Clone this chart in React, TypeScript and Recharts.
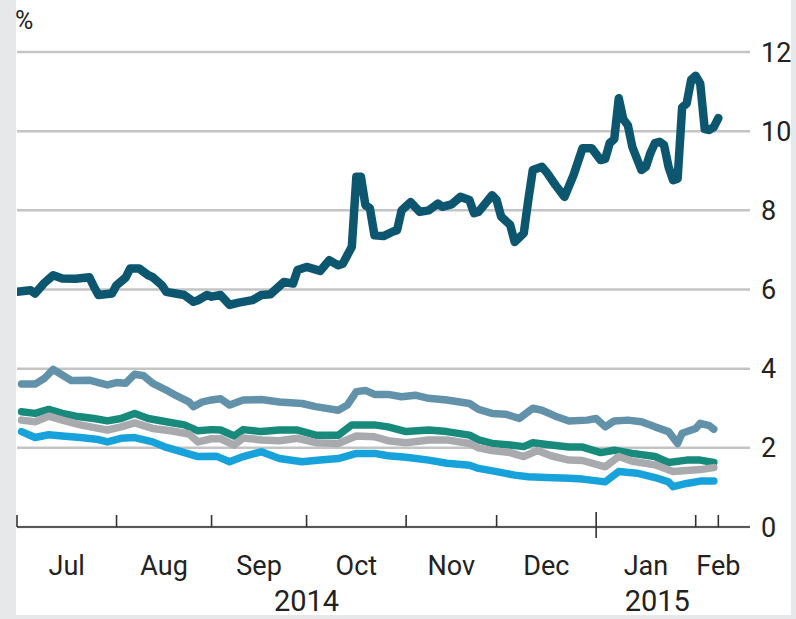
import React from 'react'
import { LineChart, Line, XAxis, YAxis, CartesianGrid } from 'recharts'

// 10-year bond yields, %, x = trading day since Jul 1st 2014
const greece: [number, number][] = [
  [0, 5.94], [3, 5.98], [4, 5.9], [6, 6.16], [8, 6.36], [10, 6.28], [13, 6.27], [16, 6.31], [17, 6.07],
  [18, 5.86], [21, 5.9], [22, 6.11], [24, 6.3], [25, 6.53], [27, 6.53], [29, 6.36], [30, 6.31], [32, 6.11],
  [33, 5.94], [35, 5.9], [37, 5.86], [39, 5.69], [40, 5.73], [42, 5.86], [43, 5.82], [45, 5.86], [47, 5.61],
  [49, 5.67], [52, 5.73], [54, 5.86], [56, 5.88], [59, 6.19], [61, 6.15], [62, 6.49], [64, 6.57], [67, 6.47],
  [69, 6.74], [71, 6.61], [72, 6.65], [74, 7.08], [75, 8.85], [76, 8.85], [77, 8.13], [78, 8.05], [79, 7.37],
  [81, 7.35], [83, 7.46], [84, 7.5], [85, 8.0], [87, 8.21], [89, 7.96], [91, 8.0], [93, 8.17], [94, 8.09],
  [96, 8.15], [98, 8.34], [100, 8.26], [101, 7.93], [102, 7.96], [105, 8.38], [106, 8.26], [107, 7.84],
  [109, 7.63], [110, 7.2], [112, 7.42], [113, 8.26], [114, 9.02], [116, 9.1], [117, 8.97], [119, 8.64],
  [121, 8.34], [123, 8.89], [125, 9.57], [127, 9.57], [129, 9.27], [130, 9.3], [131, 9.7], [132, 9.8],
  [133, 10.83], [134, 10.3], [135, 10.15], [136, 9.6], [138, 9.02], [139, 9.1], [140, 9.45], [141, 9.7],
  [142, 9.73], [143, 9.65], [144, 9.1], [145, 8.76], [146, 8.8], [147, 10.6], [148, 10.7], [149, 11.3],
  [150, 11.4], [151, 11.2], [152, 10.05], [153, 10.03], [154, 10.1], [155, 10.33],
]

const portugal: [number, number][] = [
  [1, 3.61], [4, 3.61], [6, 3.75], [8, 3.98], [10, 3.84], [12, 3.7], [16, 3.71], [18, 3.65], [20, 3.59],
  [22, 3.65], [24, 3.63], [26, 3.86], [28, 3.82], [30, 3.63], [33, 3.46], [35, 3.33], [38, 3.16], [39, 3.04],
  [41, 3.16], [43, 3.21], [45, 3.24], [47, 3.08], [50, 3.21], [54, 3.22], [58, 3.16], [63, 3.12], [66, 3.04],
  [71, 2.95], [73, 3.08], [75, 3.42], [77, 3.45], [79, 3.35], [82, 3.35], [85, 3.29], [88, 3.33], [91, 3.25],
  [95, 3.21], [100, 3.12], [102, 2.97], [105, 2.87], [108, 2.85], [111, 2.74], [114, 3.0], [116, 2.95],
  [119, 2.8], [122, 2.68], [126, 2.7], [128, 2.74], [130, 2.53], [132, 2.68], [135, 2.7], [138, 2.66],
  [141, 2.53], [144, 2.41], [146, 2.11], [147, 2.37], [150, 2.49], [151, 2.62], [153, 2.56], [154, 2.47],
]

const italy: [number, number][] = [
  [1, 2.91], [4, 2.87], [7, 2.97], [10, 2.87], [13, 2.8], [17, 2.74], [20, 2.68], [23, 2.74], [26, 2.87],
  [29, 2.74], [33, 2.66], [37, 2.58], [40, 2.43], [43, 2.46], [45, 2.45], [48, 2.3], [50, 2.46], [54, 2.41],
  [58, 2.45], [62, 2.45], [66, 2.32], [71, 2.32], [74, 2.58], [79, 2.58], [82, 2.53], [86, 2.41], [91, 2.45],
  [95, 2.41], [100, 2.32], [102, 2.2], [105, 2.11], [109, 2.07], [112, 2.03], [114, 2.13], [118, 2.07],
  [122, 2.02], [125, 2.02], [129, 1.88], [132, 1.94], [136, 1.86], [141, 1.78], [144, 1.63], [148, 1.69],
  [151, 1.69], [154, 1.63],
]

const spain: [number, number][] = [
  [1, 2.7], [4, 2.66], [7, 2.8], [10, 2.7], [14, 2.58], [18, 2.49], [20, 2.45], [23, 2.53], [26, 2.63],
  [30, 2.49], [34, 2.43], [38, 2.35], [40, 2.15], [43, 2.23], [45, 2.23], [48, 2.07], [50, 2.25], [54, 2.2],
  [58, 2.18], [62, 2.24], [66, 2.13], [71, 2.11], [75, 2.3], [79, 2.28], [82, 2.18], [86, 2.13], [91, 2.2],
  [95, 2.2], [100, 2.11], [102, 2.0], [105, 1.93], [109, 1.88], [112, 1.78], [115, 1.93], [118, 1.8],
  [122, 1.69], [125, 1.68], [130, 1.52], [133, 1.78], [136, 1.66], [141, 1.57], [145, 1.4], [148, 1.43],
  [151, 1.45], [154, 1.5],
]

const ireland: [number, number][] = [
  [1, 2.41], [4, 2.26], [7, 2.33], [10, 2.3], [14, 2.26], [18, 2.21], [20, 2.15], [23, 2.24], [26, 2.26],
  [30, 2.15], [33, 2.01], [37, 1.88], [40, 1.78], [44, 1.79], [47, 1.65], [50, 1.78], [54, 1.9], [58, 1.73],
  [63, 1.65], [67, 1.69], [71, 1.73], [75, 1.86], [79, 1.86], [82, 1.8], [86, 1.76], [91, 1.69], [95, 1.61],
  [100, 1.56], [102, 1.48], [106, 1.4], [110, 1.31], [113, 1.27], [117, 1.25], [122, 1.23], [125, 1.21],
  [130, 1.14], [133, 1.4], [137, 1.36], [141, 1.25], [144, 1.14], [145, 1.02], [148, 1.1], [151, 1.16],
  [154, 1.16],
]

const monthStarts = [0, 22, 43, 64, 86, 106, 128, 150, 155]
const monthMids = [11, 32.5, 53.5, 75, 96, 117, 139, 155]
const monthNames = ['Jul', 'Aug', 'Sep', 'Oct', 'Nov', 'Dec', 'Jan', 'Feb']
const yearPos = [64, 141.5]
const yearNames = ['2014', '2015']
const yTicks = [0, 2, 4, 6, 8, 10, 12]

const FONT = 'Roboto, sans-serif'
const TEXT = '#222'

const series = [
  { key: 'portugal', pts: portugal, color: '#6292aa', width: 7.5 },
  { key: 'italy', pts: italy, color: '#178a7c', width: 7.5 },
  { key: 'spain', pts: spain, color: '#a8aaad', width: 7.5 },
  { key: 'ireland', pts: ireland, color: '#17a2dc', width: 7.5 },
  { key: 'greece', pts: greece, color: '#0c5670', width: 8.5 },
]

const xTicks = Array.from(new Set([...monthStarts, ...monthMids, ...yearPos])).sort((a, b) => a - b)

const MonthTick = (props: any) => {
  const { x, y, payload } = props
  const v = payload.value
  const parts: React.ReactNode[] = []
  if (monthStarts.includes(v)) {
    const isYear = v === 128
    parts.push(
      <line key="t" x1={x} x2={x} y1={y - (isYear ? 15 : 12)} y2={y + (isYear ? 11 : 0)} stroke="#333" strokeWidth={1.6} />
    )
  }
  const mi = monthMids.indexOf(v)
  if (mi >= 0) {
    parts.push(
      <text key="m" x={x} y={y + 48} textAnchor="middle" fontSize={27} fill={TEXT} fontFamily={FONT}>
        {monthNames[mi]}
      </text>
    )
  }
  const yi = yearPos.indexOf(v)
  if (yi >= 0) {
    parts.push(
      <text key="y" x={x} y={y + 84} textAnchor="middle" fontSize={29} fill={TEXT} fontFamily={FONT}>
        {yearNames[yi]}
      </text>
    )
  }
  return <g>{parts}</g>
}

export default function App() {
  return (
    <div style={{ position: 'fixed', left: 0, top: 0, width: 796, height: 619, background: '#e7e8ea', overflow: 'hidden', fontFamily: FONT }}>
      <div style={{ position: 'absolute', left: 16, top: 0, width: 775, height: 615, background: '#fff' }} />
      <div style={{ position: 'absolute', left: 0, top: 0 }}>
        <LineChart width={796} height={619} margin={{ top: 52, right: 0, bottom: 0, left: 17 }}>
          <CartesianGrid horizontal vertical={false} stroke="#c4c4c4" strokeWidth={2.5} />
          <XAxis
            type="number"
            dataKey="d"
            domain={[0, 162]}
            ticks={xTicks}
            interval={0}
            height={92}
            tickLine={false}
            tickSize={0}
            tickMargin={0}
            axisLine={{ stroke: '#333', strokeWidth: 1.6 }}
            tick={<MonthTick />}
            allowDataOverflow
          />
          <YAxis
            orientation="right"
            domain={[0, 12]}
            ticks={yTicks}
            width={46}
            axisLine={false}
            tickLine={false}
            tickSize={0}
            tickMargin={11}
            tick={{ fontSize: 27, fill: TEXT, fontFamily: FONT, textAnchor: 'start' }}
          />
          {series.map((s) => (
            <Line
              key={s.key}
              data={s.pts.map(([d, v]) => ({ d, v }))}
              dataKey="v"
              name={s.key}
              type="linear"
              stroke={s.color}
              strokeWidth={s.width}
              strokeLinejoin="round"
              strokeLinecap="round"
              dot={false}
              activeDot={false}
              isAnimationActive={false}
            />
          ))}
        </LineChart>
      </div>
      <div style={{ position: 'absolute', left: 15, top: 6, fontSize: 25, color: TEXT }}>%</div>
    </div>
  )
}
